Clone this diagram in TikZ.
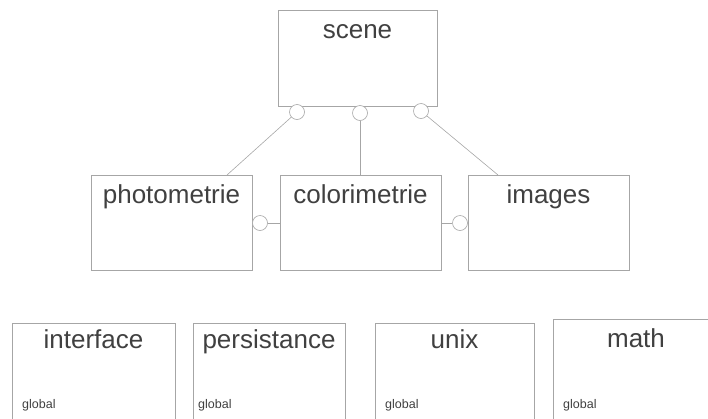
\documentclass[tikz,border=0pt]{standalone}
\usepackage{fontspec}
\setmainfont{Liberation Sans}
\begin{document}
\begin{tikzpicture}[x=1pt,y=-1pt,
  box/.style={draw=gray!70, line width=0.6pt, rectangle, inner sep=0pt, anchor=north west},
  ttl/.style={font=\fontsize{26}{30}\selectfont, text=black!75, inner sep=0pt, anchor=base},
  glb/.style={font=\fontsize{12.5}{15}\selectfont, text=black!75, inner sep=0pt, anchor=base west},
  circ/.style={draw=gray!70, line width=0.6pt, circle, fill=white, minimum size=15pt, inner sep=0pt},
  conn/.style={draw=gray!70, line width=0.6pt}]
\clip (0,0) rectangle (708,418);
% boxes
\node[box, minimum width=159pt, minimum height=96pt] (scene) at (278,10) {};
\node[box, minimum width=161pt, minimum height=95pt] (photometrie) at (91,175) {};
\node[box, minimum width=161pt, minimum height=95pt] (colorimetrie) at (280,175) {};
\node[box, minimum width=161pt, minimum height=95pt] (images) at (468,175) {};
\node[box, minimum width=163pt, minimum height=120pt] (interface) at (12,323) {};
\node[box, minimum width=152pt, minimum height=120pt] (persistance) at (193,323) {};
\node[box, minimum width=159pt, minimum height=120pt] (unix) at (375,323) {};
\node[box, minimum width=166pt, minimum height=124pt] (math) at (553,319) {};
% titles
\node[ttl] (tscene) at (357.5,38) {scene};
\node[ttl] (tphoto) at (171.5,203) {photometrie};
\node[ttl] (tcolor) at (360.5,203) {colorimetrie};
\node[ttl] (timages) at (548.5,203) {images};
\node[ttl] (tinter) at (93.5,348) {interface};
\node[ttl] (tpers) at (269,348) {persistance};
\node[ttl] (tunix) at (454.5,348) {unix};
\node[ttl] (tmath) at (636,347) {math};
% global labels
\node[glb] (g1) at (22,408) {global};
\node[glb] (g2) at (198,408) {global};
\node[glb] (g3) at (385,408) {global};
\node[glb] (g4) at (563,408) {global};
% connectors
\coordinate (p1) at (227,175);
\coordinate (p3) at (498,175);
\node[circ] (c1) at (297,112) {};
\node[circ] (c2) at (360,113) {};
\node[circ] (c3) at (421,111) {};
\node[circ] (c4) at (260,223) {};
\node[circ] (c5) at (460,223) {};
\draw[conn] (c1) -- (p1);
\draw[conn] (c2) -- (c2 |- colorimetrie.north);
\draw[conn] (c3) -- (p3);
\draw[conn] (c4) -- (colorimetrie.west |- c4);
\draw[conn] (colorimetrie.east |- c5) -- (c5);
\end{tikzpicture}
\end{document}
